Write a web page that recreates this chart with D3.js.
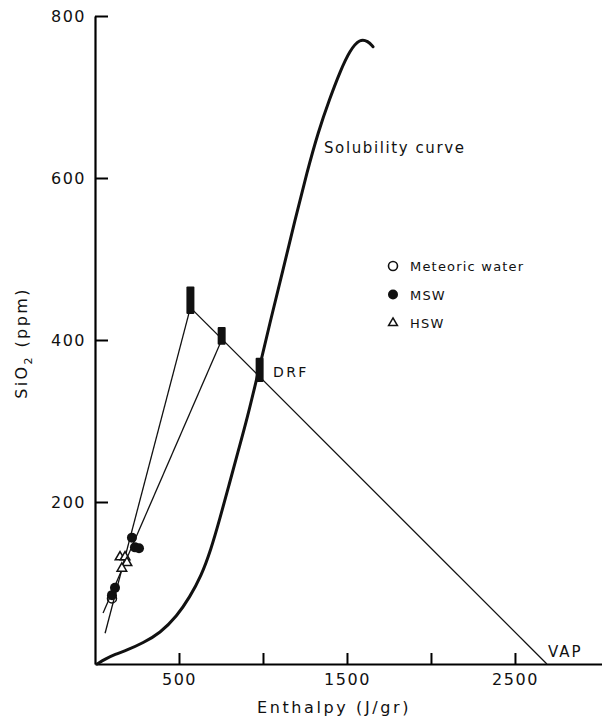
<!DOCTYPE html>
<html>
<head>
<meta charset="utf-8">
<script src="https://cdn.jsdelivr.net/npm/d3@7"></script>
<style>
  html, body { margin: 0; padding: 0; background: #fff; }
  svg { display: block; }
  text { font-family: "DejaVu Sans", sans-serif; fill: #111; }
</style>
</head>
<body>
<svg id="chart" width="602" height="723"></svg>
<script>
// ---- Data ----
const xTicks = [500, 1000, 1500, 2000, 2500];
const xTickLabels = ["500", "", "1500", "", "2500"];
const yTicks = [200, 400, 600, 800];

// Quartz solubility curve: [enthalpy J/g, SiO2 ppm]
const solubilityCurve = [
  [12, 0], [60, 6], [119, 12], [190, 17], [286, 26], [387, 38], [488, 59],
  [565, 83], [631, 108], [690, 141], [744, 180], [798, 221], [851, 262],
  [905, 302], [982, 369], [1048, 427], [1119, 486], [1190, 548], [1262, 607],
  [1327, 656], [1399, 699], [1458, 731], [1518, 758], [1577, 772], [1625, 769], [1655, 762]
];

// Measured ranges (bars): enthalpy, SiO2 low, SiO2 high
const ranges = [
  [568, 432, 466],
  [754, 394, 416],
  [980, 348, 378]
];

// Mixing lines: [start, end]
const mixingLines = [
  [[568, 440], [2690, 0]],
  [[568, 440], [60, 38]],
  [[754, 400], [48, 63]]
];

const meteoricWater = [[101, 81]];
const msw = [[101, 85], [119, 94], [220, 156], [238, 144], [262, 143]];
const hsw = [[149, 132], [179, 132], [190, 125], [160, 118]];

const legendItems = ["Meteoric water", "MSW", "HSW"];

// ---- Drawing ----
const svg = d3.select("#chart");
const x = d3.scaleLinear().domain([0, 3030]).range([95, 604]);
const y = d3.scaleLinear().domain([0, 800]).range([664, 16]);

// Axes
const xAxis = d3.axisBottom(x).tickValues(xTicks)
  .tickFormat((d, i) => xTickLabels[i]).tickSize(-11).tickSizeOuter(0).tickPadding(10);
const gx = svg.append("g").attr("transform", `translate(0,${y(0)})`).call(xAxis);
gx.select(".domain").attr("stroke-width", 2);
gx.selectAll(".tick line").attr("stroke-width", 2);
gx.selectAll("text").style("font-size", "16px").style("font-family", "DejaVu Sans")
  .attr("letter-spacing", "1.5px").attr("fill", "#111");

const yAxis = d3.axisLeft(y).tickValues(yTicks).tickSize(-13).tickSizeOuter(0).tickPadding(9);
const gy = svg.append("g").attr("transform", `translate(${x(0)},0)`).call(yAxis);
gy.select(".domain").attr("stroke-width", 2.2);
gy.selectAll(".tick line").attr("stroke-width", 2);
gy.selectAll("text").style("font-size", "16px").style("font-family", "DejaVu Sans")
  .attr("letter-spacing", "1.5px").attr("fill", "#111");

// Axis labels
svg.append("text")
  .attr("x", 334).attr("y", 713)
  .attr("text-anchor", "middle")
  .attr("letter-spacing", "2.6px")
  .style("font-size", "16px")
  .text("Enthalpy (J/gr)");

const yl = svg.append("text")
  .attr("transform", "translate(27,343) rotate(-90)")
  .attr("text-anchor", "middle")
  .attr("letter-spacing", "2.4px")
  .style("font-size", "16px");
yl.append("tspan").text("SiO");
yl.append("tspan").attr("dy", 5).style("font-size", "11px").text("2");
yl.append("tspan").attr("dy", -5).text(" (ppm)");

// Solubility curve
const line = d3.line().x(d => x(d[0])).y(d => y(d[1])).curve(d3.curveBasis);
svg.append("path").datum(solubilityCurve)
  .attr("d", line).attr("fill", "none").attr("stroke", "#111").attr("stroke-width", 3)
  .attr("stroke-linecap", "round");

// Mixing lines
svg.selectAll(".mix").data(mixingLines).enter().append("line")
  .attr("x1", d => x(d[0][0])).attr("y1", d => y(d[0][1]))
  .attr("x2", d => x(d[1][0])).attr("y2", d => y(d[1][1]))
  .attr("stroke", "#111").attr("stroke-width", 1.3);

// Range bars
svg.selectAll(".bar").data(ranges).enter().append("rect")
  .attr("x", d => x(d[0]) - 4).attr("width", 8)
  .attr("y", d => y(d[2])).attr("height", d => y(d[1]) - y(d[2]))
  .attr("rx", 1).attr("fill", "#111");

// Points
const tri = d3.symbol().type(d3.symbolTriangle).size(40);
svg.selectAll(".hsw").data(hsw).enter().append("path")
  .attr("d", tri).attr("transform", d => `translate(${x(d[0])},${y(d[1])})`)
  .attr("fill", "#fff").attr("stroke", "#111").attr("stroke-width", 1.5);
svg.selectAll(".msw").data(msw).enter().append("circle")
  .attr("cx", d => x(d[0])).attr("cy", d => y(d[1])).attr("r", 5).attr("fill", "#111");
svg.selectAll(".met").data(meteoricWater).enter().append("circle")
  .attr("cx", d => x(d[0])).attr("cy", d => y(d[1])).attr("r", 4.5)
  .attr("fill", "none").attr("stroke", "#111").attr("stroke-width", 1.5);

// Legend
const lg = svg.append("g").attr("transform", "translate(393,266)");
legendItems.forEach((name, i) => {
  const gy0 = i * 28.5;
  if (i === 0) lg.append("circle").attr("cx", 0).attr("cy", gy0).attr("r", 4.5)
    .attr("fill", "none").attr("stroke", "#111").attr("stroke-width", 1.6);
  if (i === 1) lg.append("circle").attr("cx", 0).attr("cy", gy0).attr("r", 5).attr("fill", "#111");
  if (i === 2) lg.append("path").attr("d", d3.symbol().type(d3.symbolTriangle).size(34))
    .attr("transform", `translate(0,${gy0})`).attr("fill", "none").attr("stroke", "#111").attr("stroke-width", 1.5);
  lg.append("text").attr("x", 17).attr("y", gy0 + 5)
    .attr("letter-spacing", "1.2px").style("font-size", "13px").text(name);
});

// Annotations
svg.append("text").attr("x", 324).attr("y", 153)
  .attr("letter-spacing", "1.6px").style("font-size", "15px").text("Solubility curve");
svg.append("text").attr("x", 273).attr("y", 377)
  .attr("letter-spacing", "2.4px").style("font-size", "14px").text("DRF");
svg.append("text").attr("x", 548).attr("y", 657)
  .attr("letter-spacing", "2px").style("font-size", "15px").text("VAP");
</script>
</body>
</html>
